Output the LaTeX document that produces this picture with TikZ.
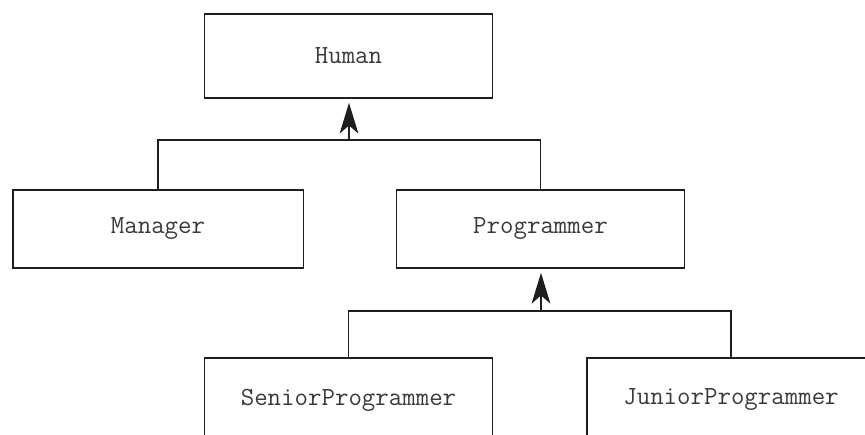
\documentclass[tikz,border=0pt]{standalone}
\usetikzlibrary{arrows.meta}
\definecolor{ink}{HTML}{1E1E1E}
\definecolor{txt}{HTML}{3A3A3A}
\tikzset{
  classbox/.style={draw=ink, line width=1.25pt, minimum width=216pt, inner sep=0pt,
    font=\ttfamily\fontsize{19.6}{21}\selectfont, text=txt},
  link/.style={draw=ink, line width=1.25pt},
  inherit/.style={link, -{Stealth[length=23pt,width=14pt,inset=6pt]}, shorten >=3pt}
}
\begin{document}
\begin{tikzpicture}[x=0.75pt,y=-0.75pt]
\useasboundingbox (0,0) rectangle (865,435);
\clip (0,0) rectangle (865,435);
% class boxes
\node[classbox, minimum height=63pt] (human) at (348.5,56) {Human};
\node[classbox, minimum height=58.5pt, minimum width=218pt] (manager) at (158,229) {Manager};
\node[classbox, minimum height=58.5pt] (programmer) at (540.5,229) {Programmer};
\node[classbox, minimum height=63pt] (senior) at (348.5,400) {SeniorProgrammer};
\node[classbox, minimum height=63pt] (junior) at (731,400) {JuniorProgrammer};
% junctions of the inheritance trees
\coordinate (j1) at (349,140);
\coordinate (j2) at (541,311);
% first level
\draw[link] (manager.north) |- (j1) -| (programmer.north);
\draw[inherit] (j1) -- (j1 |- human.south);
% second level
\draw[link] (senior.north) |- (j2) -| (junior.north);
\draw[inherit] (j2) -- (j2 |- programmer.south);
\end{tikzpicture}
\end{document}
